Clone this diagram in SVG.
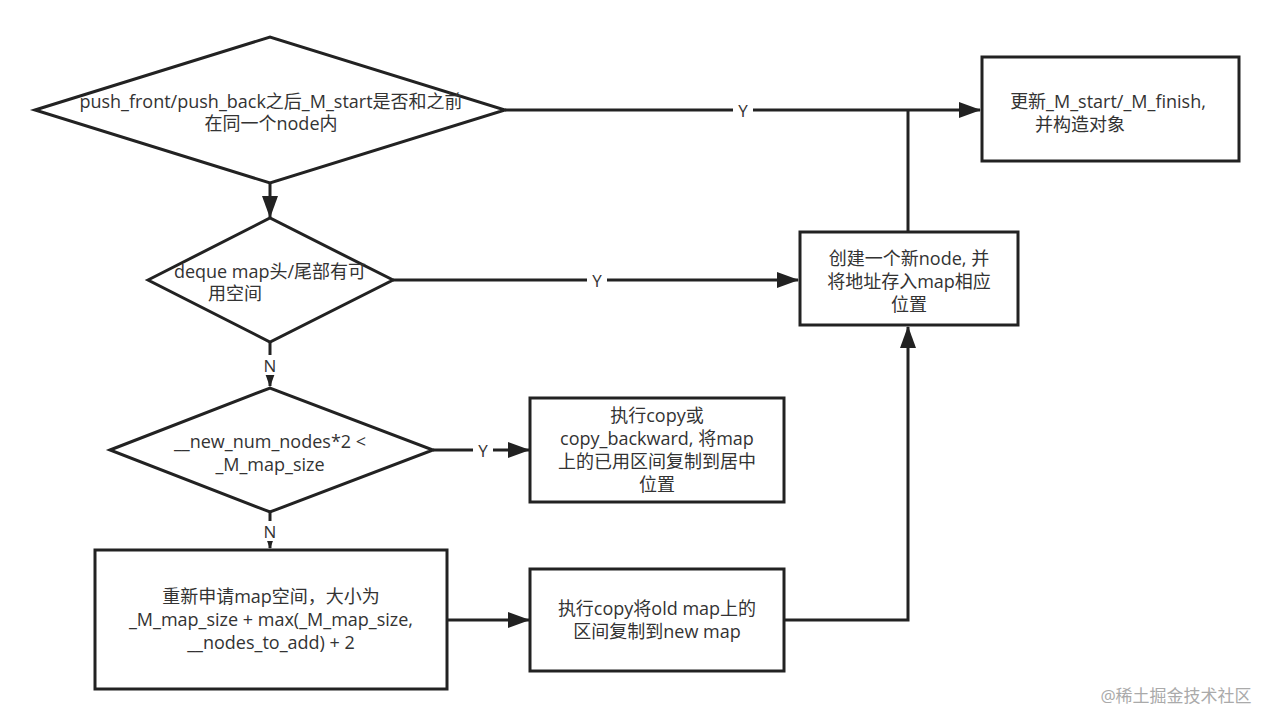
<svg xmlns="http://www.w3.org/2000/svg" width="1276" height="727" viewBox="0 0 1276 727">
<style>
.s{fill:#fff;stroke:#222;stroke-width:3}
.l{fill:none;stroke:#222;stroke-width:3}
text{font-family:"Open Sans","Noto Sans CJK SC",sans-serif;font-size:18px;fill:#333;text-anchor:middle}
.lab{font-size:17px;fill:#333}
</style>
<defs><marker id="a" markerWidth="10" markerHeight="8" refX="9" refY="4" orient="auto" markerUnits="userSpaceOnUse" viewBox="0 0 10 8"><path d="M0,0L10,4L0,8z" fill="#222"/></marker>
<marker id="b" markerWidth="22" markerHeight="16" refX="21" refY="8" orient="auto" markerUnits="userSpaceOnUse" viewBox="0 0 22 16"><path d="M0,0L22,8L0,16z" fill="#222"/></marker></defs>
<rect width="1276" height="727" fill="#fff"/>
<g id="connectors">
<path class="l" d="M505,110H980" marker-end="url(#b)"/>
<path class="l" d="M908,232V110"/>
<path class="l" d="M270,183V217" marker-end="url(#b)"/>
<path class="l" d="M393,280H798" marker-end="url(#b)"/>
<path class="l" d="M270,342V386" marker-end="url(#b)"/>
<path class="l" d="M433,450H529" marker-end="url(#b)"/>
<path class="l" d="M270,512V548" marker-end="url(#b)"/>
<path class="l" d="M447,620H529" marker-end="url(#b)"/>
<path class="l" d="M784,620H908V327" marker-end="url(#b)"/>
<rect x="733" y="100" width="20" height="20" fill="#fff"/><text class="lab" x="743" y="117">Y</text>
<rect x="587" y="270" width="20" height="20" fill="#fff"/><text class="lab" x="597" y="287">Y</text>
<rect x="261" y="355" width="18" height="20" fill="#fff"/><text class="lab" x="270" y="372">N</text>
<rect x="473" y="440" width="20" height="20" fill="#fff"/><text class="lab" x="483" y="457">Y</text>
<rect x="261" y="521" width="18" height="20" fill="#fff"/><text class="lab" x="270" y="538">N</text>
</g>
<g id="d1"><path class="s" d="M35,110L270,37L505,110L270,183Z"/><text x="271" y="108">push_front/push_back之后_M_start是否和之前</text><text x="271" y="130">在同一个node内</text></g>
<g id="b1"><rect class="s" x="982" y="57" width="257" height="104"/><text x="1108" y="108">更新_M_start/_M_finish,</text><text x="1080" y="131">并构造对象</text></g>
<g id="d2"><path class="s" d="M148,280L270,218L393,280L270,342Z"/><text x="270" y="278">deque map头/尾部有可</text><text x="235" y="300">用空间</text></g>
<g id="b2"><rect class="s" x="800" y="232" width="218" height="93"/><text x="909" y="265">创建一个新node, 并</text><text x="909" y="288">将地址存入map相应</text><text x="909" y="311">位置</text></g>
<g id="d3"><path class="s" d="M110,450L270,388L433,450L270,512Z"/><text x="270" y="448">__new_num_nodes*2 &lt;</text><text x="270" y="471">_M_map_size</text></g>
<g id="b3"><rect class="s" x="530" y="398" width="254" height="104"/><text x="657" y="422">执行copy或</text><text x="657" y="445">copy_backward, 将map</text><text x="657" y="468">上的已用区间复制到居中</text><text x="657" y="491">位置</text></g>
<g id="b4"><rect class="s" x="95" y="550" width="352" height="139"/><text x="271" y="603">重新申请map空间，大小为</text><text x="271" y="626">_M_map_size + max(_M_map_size,</text><text x="271" y="649">__nodes_to_add) + 2</text></g>
<g id="b5"><rect class="s" x="530" y="569" width="254" height="102"/><text x="657" y="615">执行copy将old map上的</text><text x="657" y="638">区间复制到new map</text></g>
<text x="1176" y="702" style="font-size:17px;fill:#aaa">@稀土掘金技术社区</text>
</svg>
